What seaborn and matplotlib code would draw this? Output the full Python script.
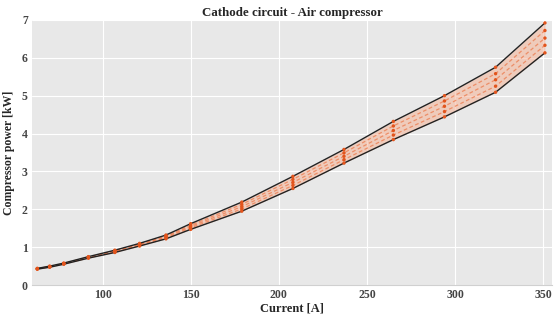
import matplotlib
matplotlib.use("Agg")
import matplotlib.pyplot as plt
import seaborn as sns
import pandas as pd

# Stack current [A]
current = [63, 70, 78, 92, 107, 121, 136, 150, 179, 208, 237, 265, 294, 323, 351]

# Compressor power [kW] for the operating envelope and intermediate cases
power_upper = [0.44, 0.50, 0.58, 0.75, 0.92, 1.10, 1.32, 1.62, 2.19, 2.87, 3.58, 4.32, 5.00, 5.75, 6.92]
power_mid_a = [0.435, 0.49, 0.57, 0.74, 0.905, 1.08, 1.295, 1.58, 2.13, 2.79, 3.49, 4.20, 4.86, 5.58, 6.72]
power_mid_b = [0.43, 0.485, 0.565, 0.73, 0.89, 1.065, 1.27, 1.545, 2.07, 2.71, 3.40, 4.08, 4.72, 5.42, 6.52]
power_mid_c = [0.425, 0.48, 0.56, 0.72, 0.875, 1.05, 1.245, 1.51, 2.01, 2.63, 3.31, 3.96, 4.58, 5.25, 6.33]
power_lower = [0.42, 0.47, 0.55, 0.71, 0.86, 1.03, 1.22, 1.47, 1.95, 2.55, 3.22, 3.84, 4.44, 5.09, 6.13]

xticks = [100, 150, 200, 250, 300, 350]
yticks = [0, 1, 2, 3, 4, 5, 6, 7]

sns.set_style("darkgrid", {"axes.facecolor": "#e8e8e8", "grid.color": "white",
                           "axes.edgecolor": "#d0d0d0"})
plt.rcParams["font.family"] = ["Liberation Serif", "DejaVu Serif"]

series = {"upper": power_upper, "a": power_mid_a, "b": power_mid_b,
          "c": power_mid_c, "lower": power_lower}
df = pd.concat([pd.DataFrame({"current": current, "power": v, "case": k})
                for k, v in series.items()], ignore_index=True)

fig = plt.figure(figsize=(5.57, 3.21), dpi=100)
ax = fig.add_axes([0.0575, 0.112, 0.9335, 0.826])

ax.fill_between(current, power_lower, power_upper, color="#f6b497", alpha=0.55,
                linewidth=0, zorder=2)

inner = df[df["case"].isin(["a", "b", "c"])]
sns.lineplot(data=inner, x="current", y="power", units="case", estimator=None,
             color="#ec7a4c", linewidth=0.9, linestyle=(0, (3, 2)), alpha=0.75,
             ax=ax, zorder=3)
outer = df[df["case"].isin(["upper", "lower"])]
sns.lineplot(data=outer, x="current", y="power", units="case", estimator=None,
             color="#222222", linewidth=1.0, ax=ax, zorder=4)
sns.scatterplot(data=df, x="current", y="power", color="#e2541c", s=6,
                edgecolor="none", ax=ax, zorder=5)

ax.set_xlim(60, 355)
ax.set_ylim(0, 7)
ax.set_xticks(xticks)
ax.set_yticks(yticks)
for lbl in ax.get_xticklabels() + ax.get_yticklabels():
    lbl.set_fontweight("bold")
    lbl.set_color("#444444")
    lbl.set_fontsize(8.5)
ax.tick_params(axis="both", length=0, pad=3)
ax.set_xlabel("Current [A]", fontsize=9, fontweight="bold", labelpad=1)
ax.set_ylabel("Compressor power [kW]", fontsize=8.5, fontweight="bold", labelpad=5)
ax.set_title("Cathode circuit - Air compressor", fontsize=9.3, fontweight="bold", pad=3)
for s in ["top", "right", "left"]:
    ax.spines[s].set_visible(False)

fig.savefig("out.png", dpi=100)
